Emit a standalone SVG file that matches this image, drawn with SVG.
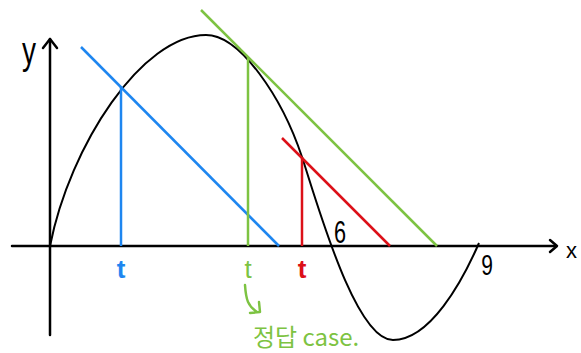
<svg xmlns="http://www.w3.org/2000/svg" width="581" height="353" viewBox="0 0 581 353">
<style>
.ax{stroke:#000;stroke-width:2.5;fill:none;stroke-linecap:round;stroke-linejoin:round}
.cv{stroke:#000;stroke-width:2;fill:none}
.b{stroke:#1e86f0;stroke-width:2.5;fill:none}
.g{stroke:#7dc342;stroke-width:2.5;fill:none}
.r{stroke:#dc1018;stroke-width:2.5;fill:none}
.lbl{font-family:"Liberation Sans","Noto Sans",sans-serif}
</style>
<rect width="581" height="353" fill="#fff"/>
<g id="axes">
<line class="ax" x1="12" y1="246" x2="556" y2="246"/>
<polyline class="ax" points="550,240 557,246 550,252"/>
<line class="ax" x1="50" y1="335" x2="50" y2="39"/>
<polyline class="ax" points="43,48 50,39 57,48"/>
</g>
<g id="curve">
<path class="cv" d="M50,246 C70,145 142,35 206,35 C240,35 282,97 302,157 C317,202 355,340 393,340 C430,340 462,282 479,243"/>
</g>
<g id="blue">
<line class="b" x1="81" y1="47" x2="279" y2="246"/>
<line class="b" x1="121" y1="86" x2="121" y2="246"/>
</g>
<g id="green">
<line class="g" x1="201" y1="10" x2="437" y2="246"/>
<line class="g" x1="248" y1="57" x2="248" y2="246"/>
<path class="g" d="M245,285 C246,300 248,306 257,312 M259,302 L260,312 L250,313" stroke-linecap="round" stroke-linejoin="round"/>
</g>
<g id="red">
<line class="r" x1="282" y1="138" x2="390" y2="246"/>
<line class="r" x1="302" y1="157" x2="302" y2="246"/>
</g>
<g id="labels" class="lbl">
<text transform="translate(22,64) scale(1,1.4)" font-size="28">y</text>
<text x="566" y="258" font-size="22">x</text>
<text transform="translate(340,243) scale(0.7,1)" font-size="31" text-anchor="middle">6</text>
<text transform="translate(487,275) scale(0.7,1)" font-size="30" text-anchor="middle">9</text>
<text x="121" y="278" font-size="26" font-weight="bold" fill="#1e86f0" text-anchor="middle">t</text>
<text x="248" y="278" font-size="26" fill="#7dc342" text-anchor="middle">t</text>
<text x="302" y="278" font-size="26" font-weight="bold" fill="#dc1018" text-anchor="middle">t</text>
<text x="253" y="346" font-size="24" fill="#7dc342" font-family="'Noto Sans CJK KR',sans-serif">정답 case.</text>
</g>
</svg>
